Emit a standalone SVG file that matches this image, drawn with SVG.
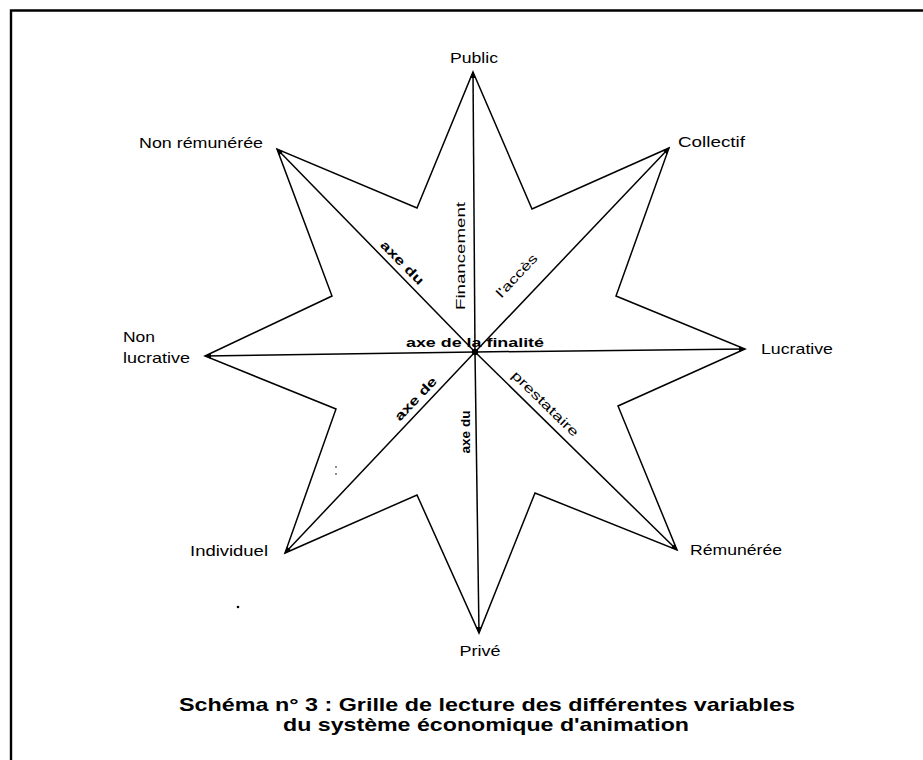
<svg xmlns="http://www.w3.org/2000/svg" width="923" height="760" viewBox="0 0 923 760">
<style>
.frame{stroke:#000;stroke-width:2.4;fill:none}
.star{fill:none;stroke:#000;stroke-width:1.5;stroke-linejoin:miter}
.axis{stroke:#000;stroke-width:1.5;fill:none}
.lbl{font-family:"Liberation Sans",Arial,sans-serif;font-size:15px;fill:#000}
.sm{font-family:"Liberation Sans",Arial,sans-serif;font-size:13px;fill:#000}
.alb{font-family:"Liberation Sans",Arial,sans-serif;font-size:13px;fill:#000;font-weight:bold}
.cap{font-family:"Liberation Sans",Arial,sans-serif;font-size:19px;font-weight:bold;fill:#000;text-anchor:middle}
</style>
<defs>
<marker id="arr" viewBox="0 0 10 10" refX="10" refY="5" markerWidth="7" markerHeight="6" orient="auto" markerUnits="userSpaceOnUse">
<path d="M0,0 L10,5 L0,10 z" fill="#000"/>
</marker>
</defs>
<rect width="923" height="760" fill="#fff"/>
<path class="frame" d="M11,760 V10.5 H923"/>

<g id="star">
<polygon class="star" points="473,72 532,209 669,148 616,296 745,349 618,406 677,550 535,493 479,633 417,495 285,553 336,409 205,356 332,296 277,149 417,208"/>
</g>

<g id="connectors">
<line class="axis" x1="475" y1="352" x2="473" y2="72" stroke-width="2.6" marker-end="url(#arr)"/>
<line class="axis" x1="475" y1="352" x2="479" y2="633" stroke-width="2.4" marker-end="url(#arr)"/>
<line class="axis" x1="475" y1="352" x2="669" y2="148" marker-end="url(#arr)"/>
<line class="axis" x1="475" y1="352" x2="745" y2="349" marker-end="url(#arr)"/>
<line class="axis" x1="475" y1="352" x2="677" y2="550" marker-end="url(#arr)"/>
<line class="axis" x1="475" y1="352" x2="285" y2="553" marker-end="url(#arr)"/>
<line class="axis" x1="475" y1="352" x2="205" y2="356" marker-end="url(#arr)"/>
<line class="axis" x1="475" y1="352" x2="277" y2="149" marker-end="url(#arr)"/>
<circle cx="475" cy="352" r="3.2" fill="#000"/>
</g>

<g id="axis-labels">
<text class="alb" transform="translate(402,263) rotate(45.7)" text-anchor="middle" y="4" textLength="56" lengthAdjust="spacingAndGlyphs">axe du</text>
<text class="sm" transform="translate(461,256) rotate(-90)" text-anchor="middle" y="4" textLength="108" lengthAdjust="spacingAndGlyphs">Financement</text>
<text class="sm" transform="translate(517,276) rotate(-46.7)" text-anchor="middle" y="4" textLength="54" lengthAdjust="spacingAndGlyphs">l'accès</text>
<text class="alb" x="475" y="347" text-anchor="middle" textLength="138" lengthAdjust="spacingAndGlyphs">axe de la finalité</text>
<text class="alb" transform="translate(416,399) rotate(-46.5)" text-anchor="middle" y="4" textLength="55" lengthAdjust="spacingAndGlyphs">axe de</text>
<text class="alb" transform="translate(466,432) rotate(-90)" text-anchor="middle" y="4" textLength="43" lengthAdjust="spacingAndGlyphs">axe du</text>
<text class="sm" transform="translate(545,404) rotate(44.3)" text-anchor="middle" y="4" textLength="88" lengthAdjust="spacingAndGlyphs">prestataire</text>
</g>

<g id="node-public"><text class="lbl" x="474" y="63" text-anchor="middle" textLength="48" lengthAdjust="spacingAndGlyphs">Public</text></g>
<g id="node-collectif"><text class="lbl" x="678" y="147" textLength="67" lengthAdjust="spacingAndGlyphs">Collectif</text></g>
<g id="node-lucrative"><text class="lbl" x="761" y="354" textLength="72" lengthAdjust="spacingAndGlyphs">Lucrative</text></g>
<g id="node-remuneree"><text class="lbl" x="690" y="555" textLength="92" lengthAdjust="spacingAndGlyphs">Rémunérée</text></g>
<g id="node-prive"><text class="lbl" x="480" y="656" text-anchor="middle" textLength="41" lengthAdjust="spacingAndGlyphs">Privé</text></g>
<g id="node-individuel"><text class="lbl" x="190" y="556" textLength="78" lengthAdjust="spacingAndGlyphs">Individuel</text></g>
<g id="node-non-lucrative"><text class="lbl" x="123" y="342" textLength="32" lengthAdjust="spacingAndGlyphs">Non</text><text class="lbl" x="123" y="363" textLength="67" lengthAdjust="spacingAndGlyphs">lucrative</text></g>
<g id="node-non-remuneree"><text class="lbl" x="263" y="148" text-anchor="end" textLength="124" lengthAdjust="spacingAndGlyphs">Non rémunérée</text></g>

<g id="specks">
<circle cx="238" cy="607" r="1.3" fill="#000"/>
<circle cx="336" cy="467" r="0.8" fill="#000"/>
<circle cx="336" cy="474" r="0.8" fill="#000"/>
</g>

<g id="caption">
<text class="cap" x="487" y="711" textLength="616" lengthAdjust="spacingAndGlyphs">Schéma n° 3 : Grille de lecture des différentes variables</text>
<text class="cap" x="486" y="731" textLength="406" lengthAdjust="spacingAndGlyphs">du système économique d'animation</text>
</g>
</svg>
